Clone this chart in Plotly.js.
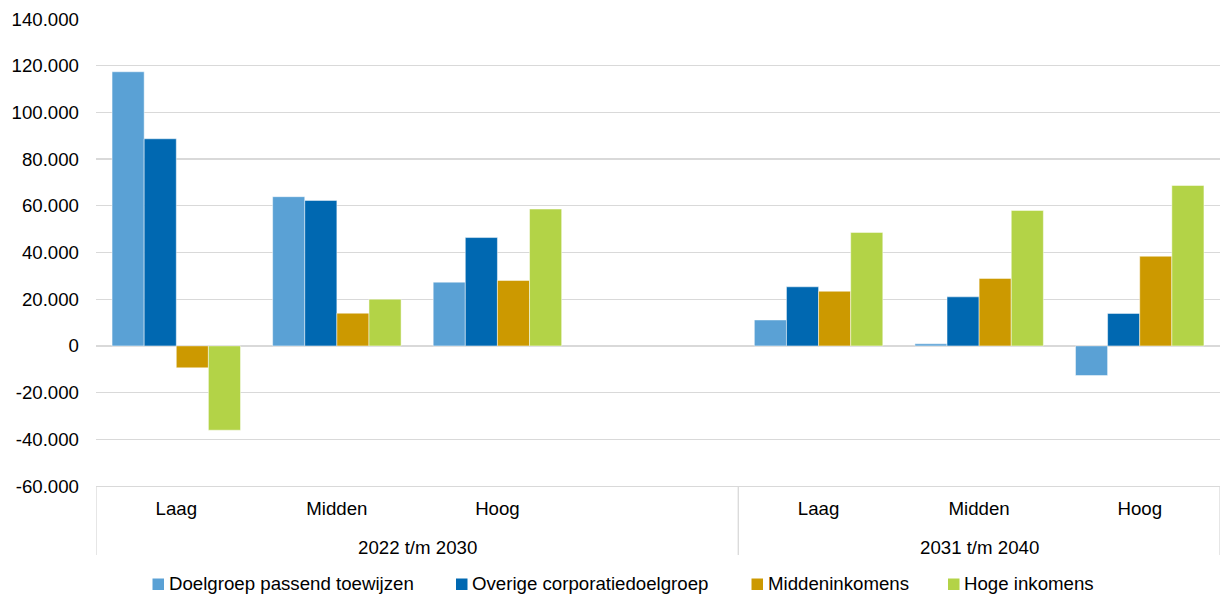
<!DOCTYPE html>
<html>
<head>
<meta charset="utf-8">
<script src="https://cdn.plot.ly/plotly-3.0.1.min.js"></script>
<style>
  html, body { margin: 0; padding: 0; background: #fff; }
  #chart { width: 1222px; height: 594px; }
</style>
</head>
<body>
<div id="chart"></div>
<script>
// Income classes along the x axis; the first period has an empty fourth slot as spacing.
const classes = ["Laag", "Midden", "Hoog", "", "Laag", "Midden", "Hoog"];
// Periods, with the slot index where each one starts and ends.
const periods = ["2022 t/m 2030", "2031 t/m 2040"];
const periodSlots = [[0, 3], [4, 6]];

const seriesNames = ["Doelgroep passend toewijzen", "Overige corporatiedoelgroep",
                     "Middeninkomens", "Hoge inkomens"];

// Values per series (number of dwellings)
const passendToewijzen  = [117400, 63900, 27300, null, 11100,   900, -12700];
const overigeDoelgroep  = [ 88700, 62300, 46400, null, 25300, 21000,  13900];
const middeninkomens    = [ -9400, 14000, 28000, null, 23400, 28900,  38400];
const hogeInkomens      = [-36100, 20000, 58600, null, 48600, 58000,  68700];

const seriesValues = [passendToewijzen, overigeDoelgroep, middeninkomens, hogeInkomens];
const seriesColors = ["#5AA1D5", "#0068B1", "#CC9900", "#B3D347"];

const yTickVals = [-60000, -40000, -20000, 0, 20000, 40000, 60000, 80000, 100000, 120000, 140000];
const yTickText = ["-60.000", "-40.000", "-20.000", "0", "20.000", "40.000", "60.000",
                   "80.000", "100.000", "120.000", "140.000"];

const slotIndex = classes.map((_, i) => i);

const traces = seriesNames.map((name, i) => ({
  type: "bar",
  name: name,
  x: slotIndex,
  y: seriesValues[i],
  marker: { color: seriesColors[i], line: { color: "rgba(255,255,255,0.6)", width: 0.8 } },
  hoverinfo: "y+name",
  showlegend: false
}));

const FONT = "Liberation Sans, Arial, sans-serif";
const FS = 18.67;
const GRID = "#D9D9D9";

// Plot frame in pixels, used to place the period labels and the legend row
const W = 1222, H = 594;
const M = { l: 96, r: 2, t: 19, b: 108 };
const plotW = W - M.l - M.r, plotH = H - M.t - M.b;
const px2paperX = px => (px - M.l) / plotW;
const py2paperY = py => (H - M.b - py) / plotH;

// Period labels below the class labels
const periodAnnotations = periods.map((p, k) => ({
  text: p,
  xref: "x", yref: "paper",
  x: (periodSlots[k][0] + periodSlots[k][1]) / 2,
  y: py2paperY(547), yanchor: "middle", xanchor: "center",
  showarrow: false,
  font: { family: FONT, size: FS, color: "#000000" }
}));

// Vertical separators at the period boundaries
const boundaries = [periodSlots[0][0] - 0.5, periodSlots[0][1] + 0.5, periodSlots[1][1] + 0.5];
const dividerShapes = boundaries.map(b => ({
  type: "line",
  xref: "x", yref: "paper",
  x0: b, x1: b, y0: 0, y1: py2paperY(555),
  line: { color: GRID, width: 1.3 }
}));

// Legend row: a square swatch followed by the series name
const legendLeft = [152.5, 456, 751.5, 948];
const swatch = 11.5;
const legendShapes = seriesNames.map((_, i) => ({
  type: "rect",
  xref: "paper", yref: "paper",
  x0: px2paperX(legendLeft[i]), x1: px2paperX(legendLeft[i] + swatch),
  y0: py2paperY(578.5), y1: py2paperY(578.5 + swatch),
  fillcolor: seriesColors[i],
  line: { width: 0 }
}));
const legendAnnotations = seriesNames.map((name, i) => ({
  text: name,
  xref: "paper", yref: "paper",
  x: px2paperX(legendLeft[i] + swatch + 2.5), xanchor: "left",
  y: py2paperY(583.5), yanchor: "middle",
  showarrow: false,
  font: { family: FONT, size: FS, color: "#000000" }
}));

const layout = {
  width: W,
  height: H,
  margin: { l: M.l, r: M.r, t: M.t, b: M.b, pad: 0, autoexpand: false },
  paper_bgcolor: "#ffffff",
  plot_bgcolor: "#ffffff",
  font: { family: FONT, size: FS, color: "#000000" },
  barmode: "group",
  bargap: 0.2,
  bargroupgap: 0,
  showlegend: false,
  xaxis: {
    type: "linear",
    range: [-0.5, classes.length - 0.5],
    tickvals: slotIndex,
    ticktext: classes,
    showgrid: false,
    showline: true,
    linecolor: GRID,
    linewidth: 1.3,
    ticks: "",
    ticklabelstandoff: 5,
    tickfont: { family: FONT, size: FS, color: "#000000" },
    zeroline: false,
    fixedrange: true
  },
  yaxis: {
    range: [-60000, 140000],
    tickvals: yTickVals,
    ticktext: yTickText,
    showgrid: true,
    gridcolor: GRID,
    gridwidth: 1.3,
    zeroline: true,
    zerolinecolor: GRID,
    zerolinewidth: 1.3,
    showline: false,
    ticks: "",
    ticklabelstandoff: 16,
    tickfont: { family: FONT, size: FS, color: "#000000" },
    fixedrange: true
  },
  annotations: periodAnnotations.concat(legendAnnotations),
  shapes: dividerShapes.concat(legendShapes)
};

Plotly.newPlot("chart", traces, layout, { displayModeBar: false, staticPlot: true });
</script>
</body>
</html>
